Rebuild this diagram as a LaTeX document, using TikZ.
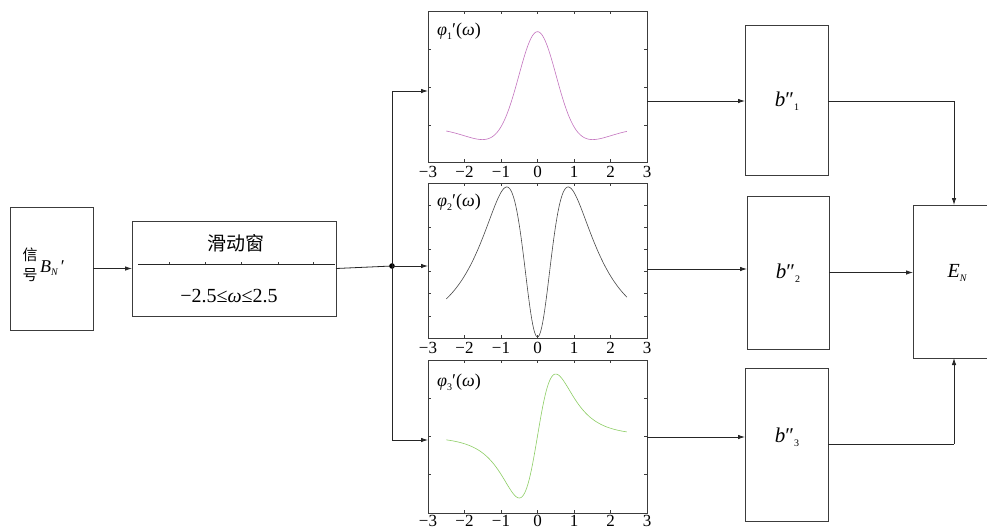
\documentclass[tikz,border=0pt]{standalone}
\usepackage{fontspec}
\setmainfont{Liberation Serif}
\newfontfamily\cjk{Noto Sans CJK SC}
\usetikzlibrary{arrows.meta}
\newcommand\lowix[1]{\raisebox{-0.45ex}{\fontsize{10}{10}\selectfont #1}}
\newcommand\fs[1]{\fontsize{#1}{#1}\selectfont}
\definecolor{cone}{RGB}{195,115,190}
\definecolor{ctwo}{RGB}{70,70,70}
\definecolor{cthree}{RGB}{140,205,100}
\definecolor{frm}{RGB}{60,60,60}
\begin{document}
\begin{tikzpicture}[x=1pt,y=-1pt,
  blk/.style={draw=frm, line width=0.9pt, inner sep=0pt, outer sep=0pt},
  pfrm/.style={draw=frm, line width=0.7pt, inner sep=0pt, outer sep=0pt, minimum width=219, text width=0pt},
  conn/.style={draw=black!85, line width=0.8pt, -{Latex[length=7pt,width=4.5pt]}},
  wire/.style={draw=black!85, line width=0.8pt},
  tk/.style={draw=frm, line width=0.5pt},
  ticklab/.style={inner sep=0pt, font=\fs{17}},
  lab/.style={inner sep=0pt, font=\fs{18}},
  crv/.style={line width=0.6pt}
]
\clip (0,0) rectangle (987,531);
% signal box
\node[blk, minimum width=83, minimum height=123] (sig) at (51.5,268.5) {};
\node[inner sep=0pt, font=\cjk\fs{15}, align=center] (sigt) at (30,265) {信\\[5pt]号};
\node[lab, anchor=west] (bn) at (40,268) {\itshape B\lowix{N}\,\upshape ′};
% sliding window
\node[blk, minimum width=204, minimum height=95] (win) at (234,268.5) {};
\node[inner sep=0pt, font=\cjk\fs{19}] (wint) at (236,243) {滑动窗};
\node[lab, font=\fs{20}] (winr) at (229,296) {−2.5≤{\itshape ω}≤2.5};
\coordinate (wl) at (138,264);
\coordinate (wr) at (335,264);
\draw[wire, line width=0.7pt] (wl) -- (wr);
\foreach \t in {169,205,241,278,313} \draw[tk] (\t,264) -- (\t,262);
\draw[conn] (sig.east) -- (win.west);
% junction
\coordinate (dot) at (392,266);
\coordinate (j1) at (392,91);
\coordinate (j3) at (392,440);
\draw[wire] (win.east) -- (dot);
\fill (dot) circle (2.8);
\draw[wire] (j1) -- (j3);
% plot frames
\node[pfrm, minimum height=151] (p1) at (537.5,86.5) {};
\node[pfrm, minimum height=155] (p2) at (537.5,260.5) {};
\node[pfrm, minimum height=153] (p3) at (537.5,436.5) {};
\draw[conn] (j1) -- (j1 -| p1.west);
\draw[conn] (dot) -- (dot -| p2.west);
\draw[conn] (j3) -- (j3 -| p3.west);
% ticks
\foreach \p/\top/\bot/\bl in {1/11/162/177, 2/183/338/353, 3/360/513/526.5}{
  \foreach \k in {1,...,5}{
    \draw[tk] ({428+36.5*\k},\top) -- ++(0,3);
    \draw[tk] ({428+36.5*\k},\bot) -- ++(0,-3);
  }
  \foreach \k/\t in {0/−3,1/−2,2/−1,3/0,4/1,5/2,6/3}{
    \node[ticklab, anchor=base] (tl\p-\k) at ({428+36.5*\k},\bl) {\t};
  }
}
\foreach \y in {49,87,125,205,227,249,271,293,316,398,436,474}{
  \draw[tk] (428,\y) -- ++(3,0);
  \draw[tk] (647,\y) -- ++(-3,0);
}
% curves
\draw[crv, cone] plot[domain=-2.5:2.45, samples=160, smooth]
  ({537.5+36.5*\x}, {127.6 - 95.9*(exp(-2*\x*\x) - 0.2286*\x*\x*exp(-\x*\x/1.69))});
\draw[crv, ctwo] plot[domain=-2.5:2.45, samples=160, smooth]
  ({537.5+36.5*\x}, {337 - 150*(\x*\x/((1+0.944*\x*\x)^2.5))/0.1969});
\draw[crv, cthree] plot[domain=-2.5:2.45, samples=160, smooth]
  ({537.5+36.5*\x}, {436 - 62*(\x/((1+\x*\x)^2.5))/0.2862});
% plot labels
\node[lab, anchor=west] (ph1) at (437,31) {{\itshape φ}\lowix{1}′({\itshape ω})};
\node[lab, anchor=west] (ph2) at (437,202) {{\itshape φ}\lowix{2}′({\itshape ω})};
\node[lab, anchor=west] (ph3) at (437,382) {{\itshape φ}\lowix{3}′({\itshape ω})};
% b boxes
\node[blk, minimum width=83, minimum height=150] (b1) at (786.5,100) {};
\node[blk, minimum width=82, minimum height=153] (b2) at (788,272.5) {};
\node[blk, minimum width=83, minimum height=153] (b3) at (786.5,444.5) {};
\node[lab, font=\fs{21}] (b1t) at (787,101) {{\itshape b}″\lowix{1}};
\node[lab, font=\fs{21}] (b2t) at (788,273) {{\itshape b}″\lowix{2}};
\node[lab, font=\fs{21}] (b3t) at (787,437) {{\itshape b}″\lowix{3}};
\coordinate (o1) at (647,101);
\coordinate (o2) at (647,269);
\coordinate (o3) at (647,437);
\draw[conn] (o1) -- (o1 -| b1.west);
\draw[conn] (o2) -- (o2 -| b2.west);
\draw[conn] (o3) -- (o3 -| b3.west);
% E box
\node[blk, minimum width=90, minimum height=153] (en) at (958,281.5) {};
\node[lab, font=\fs{20}] (ent) at (957,273) {{\itshape E}\lowix{\itshape N}};
\coordinate (e1) at (954,101);
\coordinate (e3) at (954,444);
\draw[wire] (b1.east |- e1) -- (e1);
\draw[conn] (e1) -- (e1 |- en.north);
\draw[conn] (b2.east) -- (b2.east -| en.west);
\draw[wire] (b3.east |- e3) -- (e3);
\draw[conn] (e3) -- (e3 |- en.south);
\end{tikzpicture}
\end{document}
